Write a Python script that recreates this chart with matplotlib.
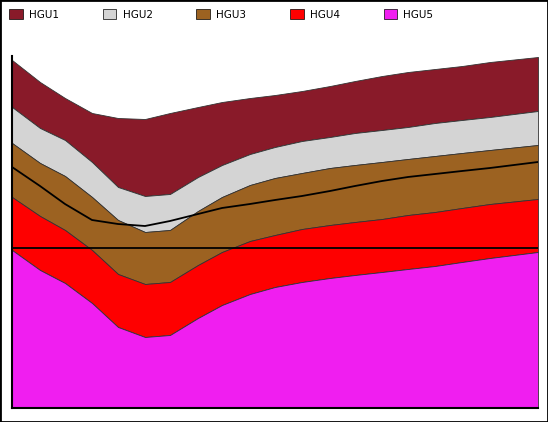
import numpy as np
import matplotlib.pyplot as plt
from matplotlib.patches import Patch

# sample positions along the x axis
x = [0, 28, 53, 80, 106, 133, 158, 186, 210, 238, 263, 290, 318, 343, 370, 396, 423, 450, 478, 526]

# layer boundaries (value 0 = horizontal reference line)
top_hgu1 = [188, 166, 150, 135, 130, 129, 135, 141, 146, 150, 153, 157, 162, 167, 172, 176, 179, 182, 186, 191]
top_hgu2 = [141, 120, 108, 86, 61, 52, 54, 71, 83, 94, 101, 107, 111, 115, 118, 121, 125, 128, 131, 137]
top_hgu3 = [105, 85, 72, 51, 28, 16, 18, 37, 51, 63, 70, 75, 80, 83, 86, 89, 92, 95, 98, 103]
top_hgu4 = [51, 32, 18, -2, -26, -36, -34, -17, -4, 7, 13, 19, 23, 26, 29, 33, 36, 40, 44, 49]
top_hgu5 = [-2, -22, -35, -55, -79, -89, -87, -70, -57, -46, -39, -34, -30, -27, -24, -21, -18, -14, -10, -4]
bottom = -160
mid_line = [81, 62, 44, 28, 24, 22, 27, 34, 40, 44, 48, 52, 57, 62, 67, 71, 74, 77, 80, 86]

names = ["HGU1", "HGU2", "HGU3", "HGU4", "HGU5"]
colors = ["#891a29", "#d4d4d4", "#9c6221", "#fe0000", "#f01ef0"]

fig = plt.figure(figsize=(5.48, 4.22), dpi=100)
ax = fig.add_axes([12 / 548, 14 / 422, 526 / 548, 352 / 422])

tops = [top_hgu1, top_hgu2, top_hgu3, top_hgu4, top_hgu5]
lows = tops[1:] + [[bottom] * len(x)]
for t, b, c in zip(tops, lows, colors):
    ax.fill_between(x, b, t, color=c, edgecolor="#333333", lw=0.6)

ax.plot(x, mid_line, color="black", lw=1.3)
ax.axhline(0, color="black", lw=1.3)

ax.set_xlim(0, 526)
ax.set_ylim(bottom, 192)
ax.set_xticks([])
ax.set_yticks([])
for s in ["top", "right"]:
    ax.spines[s].set_visible(False)
for s in ["left", "bottom"]:
    ax.spines[s].set_linewidth(1.5)

handles = [Patch(facecolor=c, edgecolor="black", lw=0.5) for c in colors]
fig.legend(handles, names, loc="upper left", bbox_to_anchor=(0.0, 1.0), ncol=5,
           frameon=False, fontsize=7.5, handlelength=1.3, handleheight=1.1,
           columnspacing=4.2, handletextpad=0.6)

fig.patches.append(plt.Rectangle((0, 0), 1, 1, transform=fig.transFigure,
                                 fill=False, edgecolor="black", lw=2))
fig.savefig("out.png", dpi=100)
